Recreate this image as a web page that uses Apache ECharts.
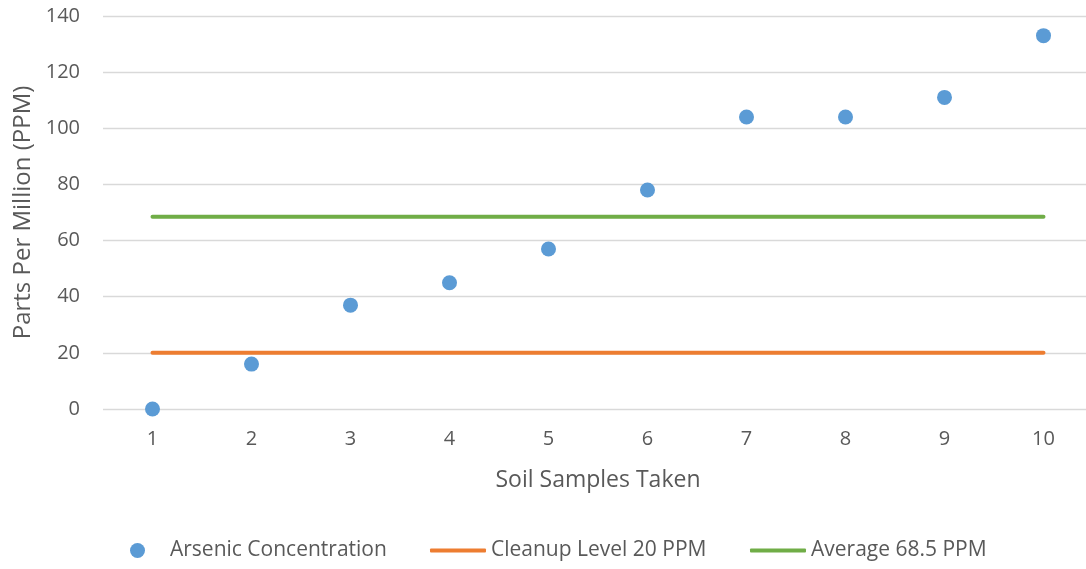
<!DOCTYPE html>
<html>
<head>
<meta charset="utf-8">
<script src="https://cdn.jsdelivr.net/npm/echarts@6/dist/echarts.min.js"></script>
<style>
  html, body { margin: 0; padding: 0; background: #ffffff; }
  #chart { width: 1086px; height: 569px; }
</style>
</head>
<body>
<div id="chart"></div>
<script>
// Soil samples and measured arsenic (PPM)
const samples = ['1', '2', '3', '4', '5', '6', '7', '8', '9', '10'];
const arsenic = [0, 16, 37, 45, 57, 78, 104, 104, 111, 133];
const cleanupLevel = [20, 20, 20, 20, 20, 20, 20, 20, 20, 20];
const average = [68.5, 68.5, 68.5, 68.5, 68.5, 68.5, 68.5, 68.5, 68.5, 68.5];
const yTicks = { min: 0, max: 140, interval: 20 };

const FONT = 'Open Sans';
const TEXT = '#595959';

const chart = echarts.init(document.getElementById('chart'));
const legendText = { color: TEXT, fontSize: 21, fontFamily: FONT };

chart.setOption({
  animation: false,
  grid: { left: 103, top: 16, width: 990, height: 393, containLabel: false, outerBoundsMode: 'none' },
  legend: [
    { data: [{ name: 'Arsenic Concentration', icon: 'circle' }], left: 130, top: 540, padding: 0,
      itemWidth: 15, itemHeight: 15,
      textStyle: Object.assign({ padding: [0, 0, 0, 20] }, legendText) },
    { data: [{ name: 'Cleanup Level 20 PPM', icon: 'roundRect' }], left: 430, top: 540, padding: 0,
      itemWidth: 56, itemHeight: 4, textStyle: legendText },
    { data: [{ name: 'Average 68.5 PPM', icon: 'roundRect' }], left: 750, top: 540, padding: 0,
      itemWidth: 56, itemHeight: 4, textStyle: legendText }
  ],
  xAxis: {
    type: 'category',
    data: samples,
    boundaryGap: true,
    name: 'Soil Samples Taken',
    nameLocation: 'middle',
    nameGap: 60,
    nameTextStyle: { color: TEXT, fontSize: 23, fontFamily: FONT },
    axisLine: { show: false },
    axisTick: { show: false },
    axisLabel: { color: TEXT, fontSize: 20, fontFamily: FONT, margin: 20 }
  },
  yAxis: {
    type: 'value',
    min: yTicks.min, max: yTicks.max, interval: yTicks.interval,
    name: 'Parts Per Million (PPM)',
    nameLocation: 'middle',
    nameGap: 68,
    nameTextStyle: { color: TEXT, fontSize: 24, fontFamily: FONT },
    axisLine: { show: false },
    axisTick: { show: false },
    axisLabel: { color: TEXT, fontSize: 20, fontFamily: FONT, margin: 23 },
    splitLine: { lineStyle: { color: '#D9D9D9', width: 1.3 } }
  },
  series: [
    {
      name: 'Cleanup Level 20 PPM', type: 'line', data: cleanupLevel,
      symbol: 'none', z: 2,
      color: '#ED7D31',
      lineStyle: { color: '#ED7D31', width: 4, cap: 'round' }
    },
    {
      name: 'Average 68.5 PPM', type: 'line', data: average,
      symbol: 'none', z: 2,
      color: '#70AD47',
      lineStyle: { color: '#70AD47', width: 4, cap: 'round' }
    },
    {
      name: 'Arsenic Concentration', type: 'scatter', data: arsenic,
      symbol: 'circle', symbolSize: 15, z: 3,
      itemStyle: { color: '#5B9BD5', opacity: 1 }
    }
  ]
});
</script>
</body>
</html>
